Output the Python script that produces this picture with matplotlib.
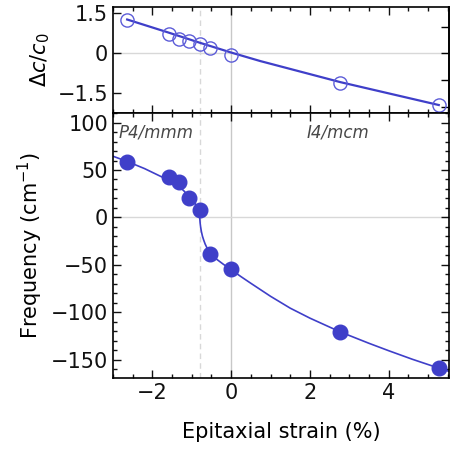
import matplotlib
matplotlib.use("Agg")
import matplotlib.pyplot as plt
from matplotlib.ticker import MultipleLocator, FixedLocator

plt.rcParams['font.family'] = ['DejaVu Sans']
plt.rcParams['mathtext.fontset'] = 'dejavusans'

# strain values (%) of the calculations
strain = [-2.64, -1.59, -1.33, -1.07, -0.79, -0.53, 0.0, 2.77, 5.27]
# change of c lattice parameter
dc = [1.27, 0.72, 0.55, 0.45, 0.34, 0.21, -0.06, -1.10, -1.94]
# soft mode frequency (cm^-1), negative = imaginary
freq = [58.8, 42.3, 37.3, 20.1, 7.4, -38.1, -54.7, -120.3, -159.0]

# fitted lines
dc_fit_x = [-2.64, -1.59, -0.8, 0.0, 0.74, 2.77, 5.27]
dc_fit_y = [1.27, 0.78, 0.40, 0.03, -0.29, -1.08, -1.94]

freq_fit_x = [-3.0, -2.64, -2.2, -1.8, -1.59, -1.33, -1.2, -1.07, -0.95, -0.88,
              -0.84, -0.82, -0.81, -0.80, -0.795, -0.787, -0.775, -0.755, -0.73,
              -0.70, -0.66, -0.62, -0.57, -0.53, -0.47, -0.4, -0.2, 0.0, 0.25,
              0.5, 1.0, 1.5, 2.0, 2.77, 3.5, 4.0, 4.6, 5.27, 5.53]
freq_fit_y = [64.5, 59, 51.5, 43.5, 39.5, 33, 28, 22, 16.8, 12.3,
              8.7, 6.2, 4.4, 1.5, -2, -6, -10, -15, -19.5,
              -23.5, -28, -31.5, -35.3, -37.5, -40.2, -43, -49.2, -55, -62.3,
              -69.3, -83, -95.5, -106, -120.5, -132.5, -140.3, -149.3, -158.6, -162]

blue = '#3f3fc9'
tc = '#111111'

fig = plt.figure(figsize=(4.53, 4.57), dpi=100)
ax1 = fig.add_axes([0.2494, 0.7527, 0.7418, 0.2320])
ax2 = fig.add_axes([0.2494, 0.1729, 0.7418, 0.5798])

for ax in (ax1, ax2):
    ax.set_xlim(-3.0, 5.53)
    ax.axvline(0, color='#c8c8c8', lw=1, zorder=0)
    ax.axvline(-0.8, color='#d8d8d8', lw=1, ls=(0, (4, 3)), zorder=0)
    ax.axhline(0, color='#d8d8d8', lw=1, zorder=0)
    for s in ax.spines.values():
        s.set_linewidth(1.2)
    ax.xaxis.set_major_locator(MultipleLocator(2))
    ax.xaxis.set_minor_locator(MultipleLocator(0.5))
    ax.tick_params(which='both', direction='in', top=True, bottom=True,
                   labelsize=15, colors=tc, width=1)
    ax.tick_params(which='major', length=5.5)
    ax.tick_params(which='minor', length=3)

# top panel
ax1.plot(dc_fit_x, dc_fit_y, color=blue, lw=1.6, zorder=2)
ax1.plot(strain, dc, 'o', ms=9.5, mfc='none', mec='#5d5dd8', mew=1.0, zorder=3)
ax1.set_ylim(-2.24, 1.74)
ax1.yaxis.set_major_locator(FixedLocator([-1.5, 0, 1.5]))
ax1.yaxis.set_major_formatter(plt.FixedFormatter(['\u22121.5', '0', '1.5']))
ax1.tick_params(axis='y', right=False)
ax1.tick_params(axis='x', labelbottom=False)
sec = ax1.secondary_yaxis('right')
sec.set_yticks([-2, -1, 0, 1])
sec.tick_params(direction='in', length=5.5, width=1, labelright=False)
sec.spines['right'].set_linewidth(1.2)
ax1.set_ylabel(r'$\Delta c/c_0$', fontsize=15, labelpad=4)

# bottom panel
ax2.plot(freq_fit_x, freq_fit_y, color=blue, lw=1.2, zorder=2)
ax2.plot(strain, freq, 'o', ms=10.5, color=blue, mec=blue, zorder=3)
ax2.set_ylim(-169, 110)
ax2.yaxis.set_major_locator(MultipleLocator(50))
ax2.yaxis.set_minor_locator(MultipleLocator(10))
ax2.tick_params(axis='y', which='both', left=True, right=True)
ax2.set_ylabel('Frequency (cm$^{-1}$)', fontsize=15, labelpad=4)
ax2.set_xlabel('Epitaxial strain (%)', fontsize=15, labelpad=14)

ax2.text(-2.85, 90, 'P4/mmm', style='italic', fontsize=12, color='#484848',
         ha='left', va='center')
ax2.text(2.7, 90, 'I4/mcm', style='italic', fontsize=12, color='#484848',
         ha='center', va='center')

fig.savefig('out.png', dpi=100)
